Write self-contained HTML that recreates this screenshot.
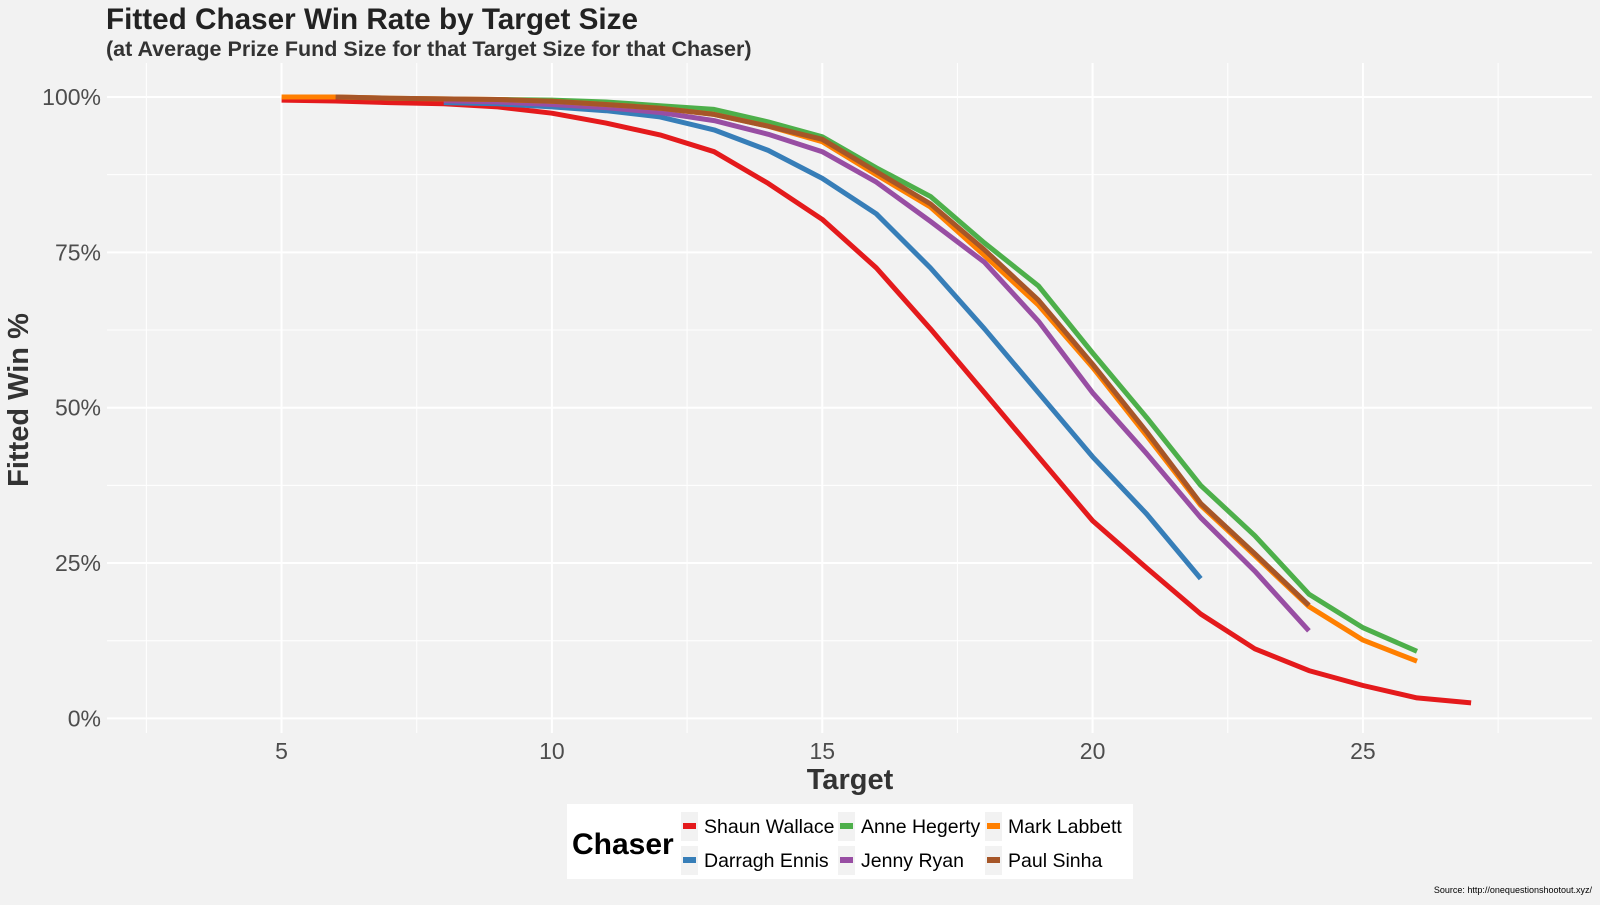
<!DOCTYPE html>
<html><head><meta charset="utf-8">
<style>
html,body{margin:0;padding:0;background:#f2f2f2;}
body{width:1600px;height:900px;overflow:hidden;font-family:"Liberation Sans",Arial,sans-serif;}
svg text{font-family:"Liberation Sans",Arial,sans-serif;}
</style></head>
<body>
<svg id="chart" width="1600" height="900">
<rect x="0" y="0" width="1600" height="900" fill="#f2f2f2"/>
<text x="106" y="29" font-size="29.7" font-weight="bold" fill="#222">Fitted Chaser Win Rate by Target Size</text>
<text x="106" y="56" font-size="21.5" font-weight="bold" fill="#333">(at Average Prize Fund Size for that Target Size for that Chaser)</text>
<g id="grid"></g>
<g id="series"></g>
<g id="axes"></g>
<text x="850" y="789" font-size="29" font-weight="bold" fill="#333" text-anchor="middle">Target</text>
<text transform="translate(28,400) rotate(-90)" font-size="29" font-weight="bold" fill="#333" text-anchor="middle">Fitted Win %</text>
<g>
<rect x="567" y="804" width="566" height="75" fill="#ffffff"/>
<text x="572" y="854" font-size="30" font-weight="bold" fill="#000">Chaser</text>
<g id="legend-items"></g>
</g>
<text x="1592" y="893" font-size="9" fill="#000" text-anchor="end">Source: http://onequestionshootout.xyz/</text>
</svg>
<script>
const names = ["Shaun Wallace","Darragh Ennis","Anne Hegerty","Jenny Ryan","Mark Labbett","Paul Sinha"];
const colors = ["#E41A1C","#377EB8","#4DAF4A","#984EA3","#FF7F00","#A65628"];
const startTargets = [5,8,9,8,5,6];
const shaunValues = [99.5,99.35,99.1,98.9,98.4,97.4,95.8,93.9,91.2,86.1,80.3,72.5,62.7,52.4,42.1,31.8,24.2,16.8,11.2,7.7,5.3,3.3,2.5];
const darraghValues = [99.1,98.9,98.4,97.8,96.8,94.7,91.4,86.9,81.2,72.5,62.7,52.4,42.1,32.9,22.5];
const anneValues = [99.6,99.5,99.2,98.6,98.0,96.0,93.6,88.6,84.0,76.5,69.6,58.8,48.4,37.5,29.4,20.0,14.6,10.8];
const jennyValues = [99.4,99.2,98.8,98.3,97.5,96.2,94.0,91.2,86.3,80.0,73.4,63.9,52.4,42.6,32.3,23.7,14.1];
const markValues = [100,100,99.8,99.7,99.6,99.3,98.8,98.2,97.2,95.3,92.8,87.5,82.3,74.5,66.5,56.5,45.5,34.3,26.2,18.0,12.6,9.2];
const paulValues = [100,99.8,99.7,99.6,99.3,98.8,98.2,97.2,95.3,93.2,88.0,82.8,75.4,67.3,57.0,46.1,34.6,26.5,18.2];
const seriesValues = [shaunValues,darraghValues,anneValues,jennyValues,markValues,paulValues];
const xTicks = [5,10,15,20,25];
const xMinor = [2.5,7.5,12.5,17.5,22.5,27.5];
const yTicks = [0,25,50,75,100];
const yMinor = [12.5,37.5,62.5,87.5];
const yTickLabels = ["0%","25%","50%","75%","100%"];

const NS="http://www.w3.org/2000/svg";
const PX0=107, PX1=1592, PY0=63, PY1=733;
function xs(t){return 11.2+54.07*t;}
function ys(p){return 718.4-6.214*p;}
function mk(tag,attrs,parent){const e=document.createElementNS(NS,tag);for(const k in attrs)e.setAttribute(k,attrs[k]);parent.appendChild(e);return e;}

const grid=document.getElementById('grid');
mk('rect',{x:PX0,y:PY0,width:PX1-PX0,height:PY1-PY0,fill:'#f2f2f2'},grid);
xMinor.forEach(t=>{const l=mk('line',{x1:xs(t),x2:xs(t),y1:PY0,y2:PY1,stroke:'#fff','stroke-width':1},grid);

});
yMinor.forEach(p=>{const l=mk('line',{x1:PX0,x2:PX1,y1:ys(p),y2:ys(p),stroke:'#fff','stroke-width':1},grid);

});
xTicks.forEach(t=>{const l=mk('line',{x1:xs(t),x2:xs(t),y1:PY0,y2:PY1,stroke:'#fff','stroke-width':2},grid);

});
yTicks.forEach(p=>{const l=mk('line',{x1:PX0,x2:PX1,y1:ys(p),y2:ys(p),stroke:'#fff','stroke-width':2},grid);

});

const axes=document.getElementById('axes');
xTicks.forEach(t=>{const e=mk('text',{x:xs(t),y:759,'font-size':23,fill:'#4d4d4d','text-anchor':'middle'},axes);e.textContent=t;

});
yTicks.forEach((p,i)=>{const e=mk('text',{x:101,y:ys(p)+8,'font-size':23,fill:'#4d4d4d','text-anchor':'end'},axes);e.textContent=yTickLabels[i];

});

const sg=document.getElementById('series');
seriesValues.forEach((vals,i)=>{
  const pts=vals.map((v,j)=>xs(startTargets[i]+j).toFixed(1)+','+ys(v).toFixed(1)).join(' ');
  const pl=mk('polyline',{points:pts,fill:'none',stroke:colors[i],'stroke-width':5,'stroke-linejoin':'round'},sg);
  
  
});

const li=document.getElementById('legend-items');
const colX=[681,838,985], rowY=[826,860];
names.forEach((n,i)=>{
  const c=Math.floor(i/2), r=i%2;
  const g=mk('g',{},li);
  
  
  mk('rect',{x:colX[c],y:rowY[r]-14,width:17,height:29,fill:'#f2f2f2'},g);
  mk('rect',{x:colX[c]+2,y:rowY[r]-3,width:13,height:6,fill:colors[i]},g);
  const t=mk('text',{x:colX[c]+23,y:rowY[r]+7,'font-size':19.5,fill:'#000'},g);t.textContent=n;
});
</script>
</body></html>
